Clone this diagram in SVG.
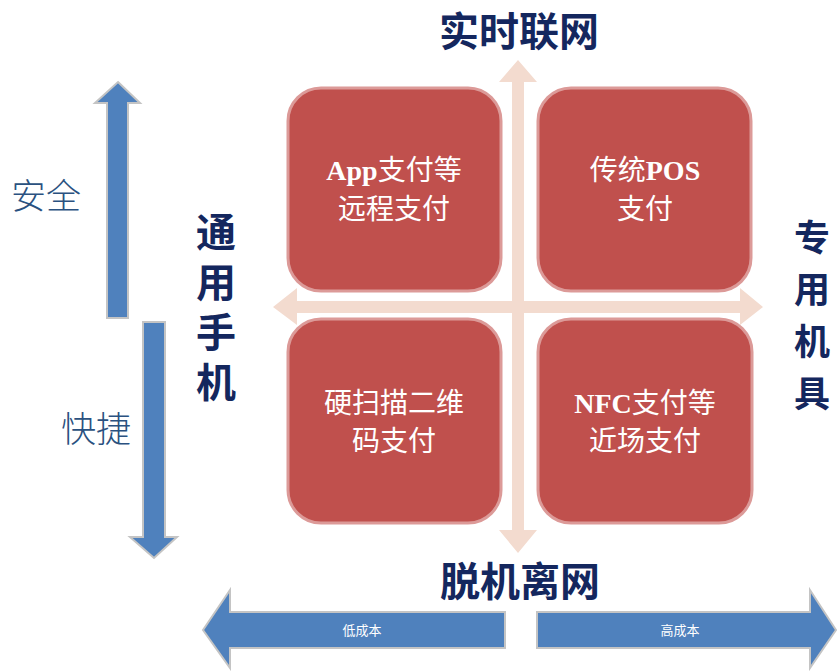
<svg xmlns="http://www.w3.org/2000/svg" width="838" height="671" viewBox="0 0 838 671">
<style>
.box{fill:#c0504d;stroke:#dc9a98;stroke-width:3}
.bt{font-family:"Liberation Serif","Noto Sans CJK SC",serif;font-size:28px;fill:#ffffff;text-anchor:middle}
.lat{font-weight:bold}
.hd{font-family:"Noto Sans CJK SC",sans-serif;font-weight:bold;font-size:40px;fill:#14275e;text-anchor:middle}
.vt{font-family:"Noto Sans CJK SC",sans-serif;font-weight:bold;font-size:40px;fill:#14275e;writing-mode:vertical-rl}
.side{font-family:"Noto Sans CJK SC",sans-serif;font-weight:300;font-size:35px;fill:#2a5180;text-anchor:middle}
.blue{fill:#4f81bd;stroke:#c4c4c4;stroke-width:2}
.small{font-family:"Noto Sans CJK SC",sans-serif;font-size:13px;fill:#ffffff;text-anchor:middle}
.cross{fill:#f3dbcf}
</style>
<rect width="838" height="671" fill="#ffffff"/>
<g id="connectors">
  <path class="cross" d="M518,60 L537,82 L524,82 L524,301 L740,301 L740,288 L763,307 L740,325 L740,313 L524,313 L524,530 L537,530 L518,553 L499,530 L512,530 L512,313 L297,313 L297,325 L273,307 L297,288 L297,301 L512,301 L512,82 L499,82 Z"/>
</g>
<g id="axis-safe">
  <path class="blue" d="M118,82 L140,103 L128,103 L128,318 L107,318 L107,103 L95,103 Z"/>
  <text class="side" x="46" y="209">安全</text>
</g>
<g id="axis-fast">
  <path class="blue" d="M143,322 L165,322 L165,537 L177,537 L154,558 L130,537 L143,537 Z"/>
  <text class="side" x="96" y="442">快捷</text>
</g>
<g id="axis-low-cost">
  <path class="blue" d="M203,630 L230,590 L230,612 L505,612 L505,648 L230,648 L230,668 Z"/>
  <text class="small" x="362" y="635">低成本</text>
</g>
<g id="axis-high-cost">
  <path class="blue" d="M836,630 L810,590 L810,612 L537,612 L537,648 L810,648 L810,668 Z"/>
  <text class="small" x="680" y="635">高成本</text>
</g>
<g id="label-top"><text class="hd" x="519" y="46">实时联网</text></g>
<g id="label-bottom"><text class="hd" x="520" y="596">脱机离网</text></g>
<g id="label-left">
  <text class="vt" x="216" y="212" letter-spacing="10">通用手机</text>
</g>
<g id="label-right">
  <text class="vt" x="812" y="219" letter-spacing="16" style="font-size:36px">专用机具</text>
</g>
<g id="node-app">
  <rect class="box" x="288" y="88" width="213" height="203" rx="33"/>
  <text class="bt" x="394" y="180"><tspan class="lat">App</tspan>支付等</text>
  <text class="bt" x="394" y="219">远程支付</text>
</g>
<g id="node-pos">
  <rect class="box" x="538" y="88" width="213" height="203" rx="33"/>
  <text class="bt" x="645" y="180">传统<tspan class="lat">POS</tspan></text>
  <text class="bt" x="645" y="219">支付</text>
</g>
<g id="node-qr">
  <rect class="box" x="288" y="319" width="213" height="204" rx="33"/>
  <text class="bt" x="394" y="413">硬扫描二维</text>
  <text class="bt" x="394" y="451">码支付</text>
</g>
<g id="node-nfc">
  <rect class="box" x="538" y="319" width="214" height="204" rx="33"/>
  <text class="bt" x="645" y="413"><tspan class="lat">NFC</tspan>支付等</text>
  <text class="bt" x="645" y="451">近场支付</text>
</g>
</svg>
